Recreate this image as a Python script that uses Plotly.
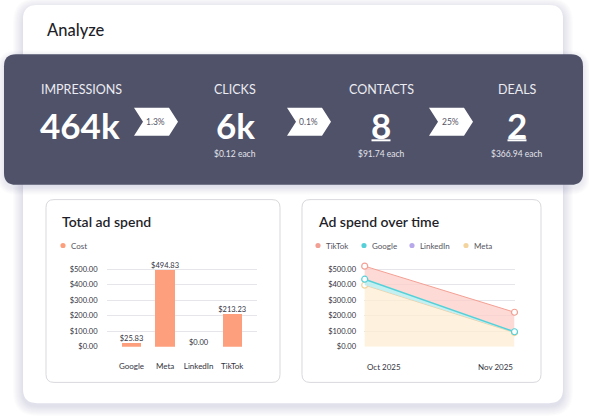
import plotly.graph_objects as go

W, H = 589, 420
FONT = "Lato"

# ---------------- data ----------------
funnel_labels = ["IMPRESSIONS", "CLICKS", "CONTACTS", "DEALS"]
funnel_values = ["464k", "6k", "8", "2"]
funnel_each = ["", "$0.12 each", "$91.74 each", "$366.94 each"]
conversion_rates = ["1.3%", "0.1%", "25%"]

platforms = ["Google", "Meta", "LinkedIn", "TikTok"]
total_cost = [25.83, 494.83, 0.00, 213.23]

months = ["Oct 2025", "Nov 2025"]
meta_spend = [398, 92]
linkedin_spend = [0, 0]
google_spend = [38, 5]
tiktok_spend = [84, 126]

y_ticks = [0, 100, 200, 300, 400, 500]

# ---------------- helpers ----------------
def X(px):
    return px / W

def Y(py):
    return 1 - py / H

def rrect(x0, y0, x1, y1, r):
    p = lambda x, y: f"{X(x):.5f},{Y(y):.5f}"
    return (f"M {p(x0 + r, y0)} L {p(x1 - r, y0)} Q {p(x1, y0)} {p(x1, y0 + r)} "
            f"L {p(x1, y1 - r)} Q {p(x1, y1)} {p(x1 - r, y1)} L {p(x0 + r, y1)} "
            f"Q {p(x0, y1)} {p(x0, y1 - r)} L {p(x0, y0 + r)} Q {p(x0, y0)} {p(x0 + r, y0)} Z")

def chevron(x0, y0, x1, y1, d):
    ym = (y0 + y1) / 2
    pts = [(x0, y0), (x1 - d, y0), (x1, ym), (x1 - d, y1), (x0, y1), (x0 + d, ym)]
    return "M " + " L ".join(f"{X(a):.5f},{Y(b):.5f}" for a, b in pts) + " Z"

shapes = []
annotations = []

def add_shape(path, fill, line=None, lw=0):
    shapes.append(dict(type="path", path=path, xref="paper", yref="paper",
                       fillcolor=fill, line=dict(color=line or "rgba(0,0,0,0)", width=lw),
                       layer="below"))

def text(x, y, s, size, color, anchor="center", weight="normal", family=FONT):
    annotations.append(dict(x=X(x), y=Y(y), xref="paper", yref="paper", text=s,
                            showarrow=False, xanchor=anchor, yanchor="middle",
                            font=dict(size=size, color=color, family=family, weight=weight)))

# ---------------- outer card with shadow ----------------
for k in range(1, 11):
    add_shape(rrect(23 - k, 5 - k + 3, 563 + k, 408 + k + 3, 14 + k), "rgba(40,40,70,0.010)")
add_shape(rrect(23, 5, 563, 408, 14), "#ffffff")

# banner shadow band on card
for k in range(1, 14):
    shapes.append(dict(type="rect", xref="paper", yref="paper", x0=X(23), x1=X(563),
                       y0=Y(180 + k), y1=Y(180), fillcolor="rgba(60,60,90,0.006)",
                       line=dict(width=0), layer="below"))
# banner
for k in range(1, 8):
    add_shape(rrect(4 - k, 55 - k + 3, 583 + k, 187 + k + 3, 12 + k), "rgba(40,40,70,0.012)")
add_shape(rrect(4, 55, 583, 187, 12), "#4f5269")

# ---------------- banner content ----------------
label_x = [39, 235, 381, 517]
anchors = ["left", "center", "center", "center"]
for i in range(len(funnel_labels)):
    text(label_x[i], 90.5, funnel_labels[i], 12.5, "#ececf2", anchors[i])
    text(label_x[i] + (-1 if i == 0 else 0), 127, funnel_values[i], 35, "#ffffff", anchors[i], weight="bold")
    if funnel_each[i]:
        text(label_x[i], 155.5, funnel_each[i], 8.5, "#e4e4ec", "center")

# underlines for contacts and deals
for cx in (381, 517):
    shapes.append(dict(type="line", xref="paper", yref="paper", x0=X(cx - 9.5), x1=X(cx + 9.5),
                       y0=Y(142), y1=Y(142), line=dict(color="#ffffff", width=2)))

chev_x = [134, 287, 429]
for i, r in enumerate(conversion_rates):
    x0 = chev_x[i]
    add_shape(chevron(x0, 109, x0 + 44, 137.5, 9), "#ffffff")
    text(x0 + 21.5, 123.5, r, 8.5, "#555566")

# ---------------- title ----------------
text(45, 30, "Analyze", 16.5, "#1f1f2a", "left", weight=500)

# ---------------- inner cards ----------------
for (x0, x1) in ((46, 280), (302, 541)):
    add_shape(rrect(x0, 202, x1, 387, 8), "#ffffff", line="#d9d9de", lw=1)

text(60, 224, "Total ad spend", 14, "#1f1f2a", "left", weight=600)
text(316, 224, "Ad spend over time", 14, "#1f1f2a", "left", weight=600)

# legends
def legend_item(x, y, color, label):
    shapes.append(dict(type="circle", xref="paper", yref="paper",
                       x0=X(x - 2.6), x1=X(x + 2.6), y0=Y(y + 2.6), y1=Y(y - 2.6),
                       fillcolor=color, line=dict(width=0)))
    text(x + 6, y, label, 8, "#555560", "left")

bar_color = "#fd9f7c"
legend_item(63, 248.5, bar_color, "Cost")

c_tiktok, c_google, c_linkedin, c_meta = "#f3a094", "#55d0d8", "#b6a8ea", "#f4d49e"
legend_item(318, 248.5, c_tiktok, "TikTok")
legend_item(364, 248.5, c_google, "Google")
legend_item(412, 248.5, c_linkedin, "LinkedIn")
legend_item(466, 248.5, c_meta, "Meta")

# ---------------- charts ----------------
px_per_500 = 78.5
ytop = 262
ymax = 500 * (351 - ytop) / px_per_500

fig = go.Figure()

fig.add_trace(go.Bar(x=platforms, y=total_cost, marker=dict(color=bar_color, line=dict(width=0)),
                     width=0.57, xaxis="x", yaxis="y", showlegend=False, hoverinfo="skip"))
fig.add_trace(go.Scatter(x=platforms, y=total_cost, mode="text",
                         text=[f"${v:,.2f}" for v in total_cost], textposition="top center",
                         textfont=dict(size=7.5, color="#333340", family=FONT),
                         xaxis="x", yaxis="y", showlegend=False, cliponaxis=False, hoverinfo="skip"))

xi = list(range(len(months)))
series = [("Meta", meta_spend, c_meta, "rgba(253,236,210,0.75)", 1),
          ("LinkedIn", linkedin_spend, c_linkedin, "rgba(0,0,0,0)", 0),
          ("Google", google_spend, c_google, "rgba(190,238,241,0.9)", 1.5),
          ("TikTok", tiktok_spend, c_tiktok, "rgba(252,205,200,0.75)", 1)]
for name, vals, col, fc, lw in series:
    fig.add_trace(go.Scatter(
        x=xi, y=vals, name=name, stackgroup="one", fillcolor=fc,
        mode="lines+markers" if lw else "lines",
        line=dict(color=col, width=lw if lw else 0.1),
        marker=dict(size=6, color="#ffffff", line=dict(color=col, width=1.2)),
        xaxis="x2", yaxis="y2", showlegend=False, cliponaxis=False, hoverinfo="skip"))

for i, m in enumerate(months):
    annotations.append(dict(x=xi[i], y=0, xref="x2", yref="y2", text=m, showarrow=False,
                            xanchor="left" if i == 0 else "right", yanchor="top", yshift=-13,
                            font=dict(size=8, color="#333340", family=FONT)))

yax = dict(range=[0, ymax], tickvals=y_ticks, tickformat="$,.2f", showgrid=True,
           gridcolor="#e6e6ea", gridwidth=1, zeroline=False, showline=False,
           ticks="outside", tickcolor="rgba(0,0,0,0)",
           tickfont=dict(size=7.5, color="#333340", family=FONT), fixedrange=True)

fig.update_layout(
    width=W, height=H, margin=dict(l=0, r=0, t=0, b=0),
    paper_bgcolor="#ffffff", plot_bgcolor="rgba(0,0,0,0)",
    showlegend=False, bargap=0,
    xaxis=dict(domain=[X(107), X(257)], type="category", range=[-0.73, 3.74],
               showgrid=False, zeroline=False, showline=False, ticks="outside", ticklen=12,
               tickcolor="rgba(0,0,0,0)", tickfont=dict(size=8, color="#333340", family=FONT),
               anchor="y"),
    yaxis=dict(domain=[Y(351), Y(ytop)], anchor="x", ticklen=7, **yax),
    xaxis2=dict(domain=[X(363.5), X(514.5)], range=[-0.008, 1.0], showgrid=False,
                zeroline=False, showline=False, showticklabels=False, anchor="y2"),
    yaxis2=dict(domain=[Y(351), Y(ytop)], anchor="x2", ticklen=5, **yax),
    shapes=shapes, annotations=annotations,
)

fig.write_html("out.html")
